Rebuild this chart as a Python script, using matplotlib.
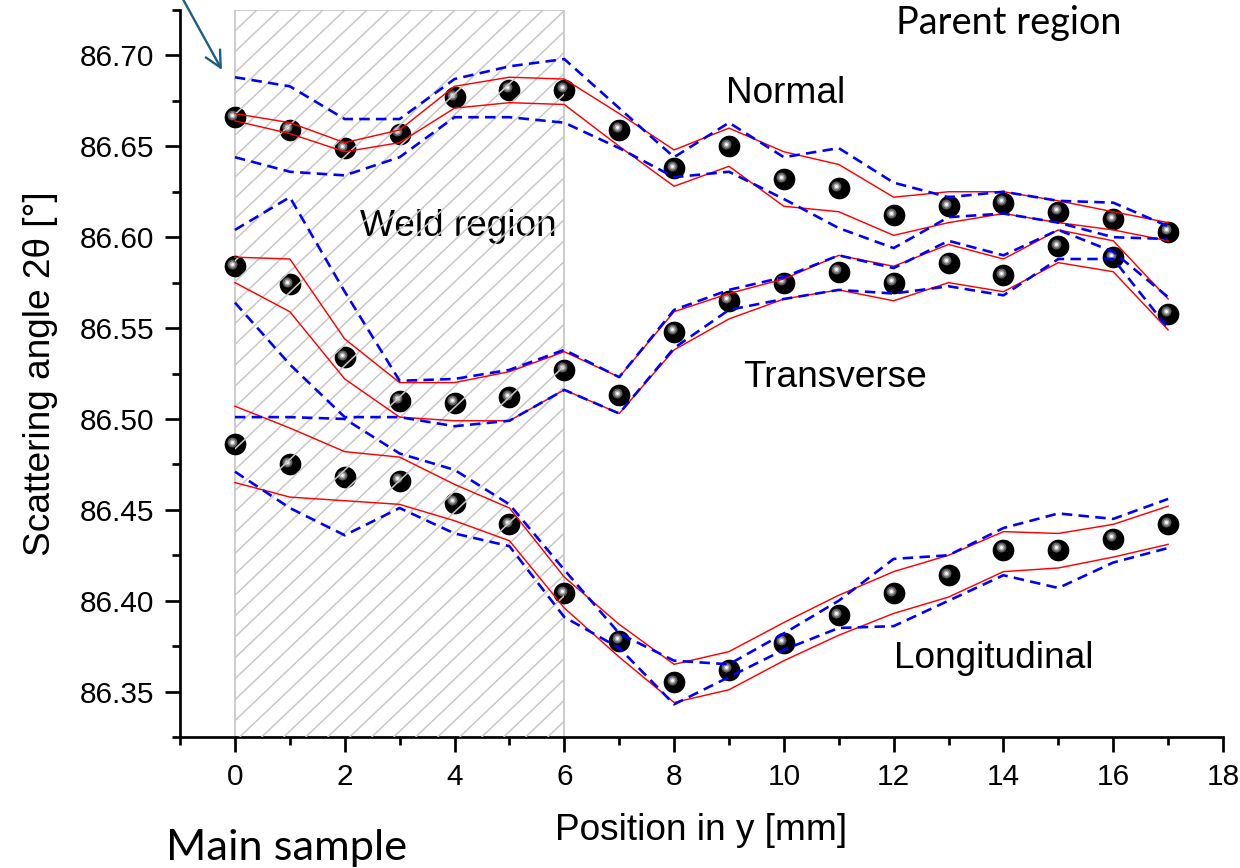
"""Scattering angle 2theta across the weld: normal, transverse, longitudinal.

Black balls are the measured peak positions, red solid lines one error
band, blue dashed lines the other. Writes out.png.
"""

import matplotlib

matplotlib.use("Agg")  # no display in the sandbox

import matplotlib.pyplot as plt
import numpy as np
from matplotlib.collections import LineCollection
from matplotlib.ticker import MultipleLocator
from matplotlib.transforms import offset_copy


positions = list(range(18))  # y position [mm]

# --- Normal -------------------------------------------------------------
normal = [86.666, 86.659, 86.649, 86.657, 86.677, 86.681, 86.681, 86.659, 86.638,
          86.650, 86.632, 86.627, 86.612, 86.617, 86.619, 86.614, 86.610, 86.603]
normal_red_hi = [86.668, 86.663, 86.652, 86.659, 86.683, 86.688, 86.687, 86.668, 86.648,
                 86.660, 86.647, 86.640, 86.622, 86.625, 86.625, 86.620, 86.614, 86.608]
normal_red_lo = [86.664, 86.657, 86.647, 86.652, 86.671, 86.674, 86.673, 86.650, 86.628,
                 86.639, 86.617, 86.614, 86.601, 86.608, 86.613, 86.608, 86.604, 86.598]
normal_blue_hi = [86.688, 86.683, 86.665, 86.665, 86.687, 86.694, 86.698, 86.671, 86.644,
                  86.663, 86.644, 86.649, 86.630, 86.622, 86.625, 86.620, 86.619, 86.606]
normal_blue_lo = [86.644, 86.636, 86.634, 86.644, 86.666, 86.666, 86.663, 86.649, 86.633,
                  86.636, 86.621, 86.605, 86.594, 86.611, 86.613, 86.608, 86.600, 86.599]

# --- Transverse ---------------------------------------------------------
transverse = [86.584, 86.574, 86.534, 86.510, 86.509, 86.512, 86.527, 86.513, 86.548,
              86.565, 86.575, 86.581, 86.575, 86.586, 86.579, 86.595, 86.589, 86.558]
transverse_red_hi = [86.589, 86.588, 86.544, 86.520, 86.520, 86.526, 86.537, 86.523, 86.559,
                     86.569, 86.577, 86.590, 86.584, 86.596, 86.588, 86.604, 86.598, 86.566]
transverse_red_lo = [86.575, 86.559, 86.522, 86.501, 86.499, 86.499, 86.516, 86.503, 86.538,
                     86.555, 86.566, 86.571, 86.565, 86.575, 86.570, 86.586, 86.581, 86.549]
transverse_blue_hi = [86.604, 86.622, 86.570, 86.521, 86.522, 86.527, 86.538, 86.523, 86.560,
                      86.571, 86.578, 86.590, 86.583, 86.598, 86.590, 86.604, 86.592, 86.567]
transverse_blue_lo = [86.564, 86.530, 86.501, 86.501, 86.496, 86.499, 86.516, 86.503, 86.539,
                      86.560, 86.566, 86.571, 86.569, 86.573, 86.568, 86.588, 86.588, 86.550]

# --- Longitudinal -------------------------------------------------------
longitudinal = [86.486, 86.475, 86.468, 86.466, 86.454, 86.442, 86.404, 86.378, 86.355,
                86.362, 86.377, 86.392, 86.404, 86.414, 86.428, 86.428, 86.434, 86.442]
longitudinal_red_hi = [86.507, 86.495, 86.482, 86.479, 86.464, 86.451, 86.413, 86.387, 86.365,
                       86.372, 86.388, 86.403, 86.416, 86.425, 86.438, 86.437, 86.442, 86.452]
longitudinal_red_lo = [86.465, 86.457, 86.455, 86.453, 86.444, 86.433, 86.396, 86.369, 86.344,
                       86.351, 86.367, 86.381, 86.393, 86.402, 86.416, 86.418, 86.424, 86.431]
longitudinal_blue_hi = [86.501, 86.501, 86.500, 86.481, 86.472, 86.453, 86.417, 86.382, 86.367,
                        86.365, 86.382, 86.400, 86.423, 86.425, 86.440, 86.448, 86.445, 86.456]
longitudinal_blue_lo = [86.471, 86.451, 86.436, 86.451, 86.437, 86.430, 86.391, 86.374, 86.343,
                        86.358, 86.373, 86.385, 86.386, 86.400, 86.414, 86.407, 86.421, 86.429]

WELD_START = 0
WELD_END = 6
X_RANGE = (-1, 18)
Y_RANGE = (86.325, 86.725)

DPI = 130
FIG_PX = (1240, 868)
AX_RECT = [0.1452, 0.1509, 0.8411, 0.8376]
SANS = "Liberation Sans"
NOTE_FONT = "Lato"
ARROW_COLOR = "#1d5e80"
HATCH_GRAY = "#c8c8c8"
HATCH_STEP_PX = 22    # horizontal distance between hatch lines
HATCH_SLOPE = 0.95    # rise over run, in pixels


def draw_weld_region(ax):
    """White box with grey diagonal hatch, hatch lying over the balls."""
    box = ax.axvspan(WELD_START, WELD_END, facecolor="white", edgecolor=HATCH_GRAY,
                     lw=1.0, zorder=0)

    ax_w = FIG_PX[0] * AX_RECT[2]
    ax_h = FIG_PX[1] * AX_RECT[3]
    span = X_RANGE[1] - X_RANGE[0]
    left = (WELD_START - X_RANGE[0]) / span
    right = (WELD_END - X_RANGE[0]) / span
    run = ax_h / HATCH_SLOPE / ax_w          # x travel over the full height
    starts = np.arange(left - run, right, HATCH_STEP_PX / ax_w)
    segs = [[(s, 0.0), (s + run, 1.0)] for s in starts]
    hatch = LineCollection(segs, colors=HATCH_GRAY, linewidths=0.85,
                           transform=ax.transAxes, zorder=4)
    ax.add_collection(hatch)
    hatch.set_clip_path(box)


def draw_balls(ax, fig, x, y):
    """Black spheres: dark body plus a small offset highlight."""
    ax.plot(x, y, "o", ms=11, color="black", mec="black", zorder=3)
    shine = offset_copy(ax.transData, fig=fig, x=-2.5, y=2.5, units="dots")
    ax.plot(x, y, "o", ms=5.5, color="#5e5e5e", mew=0, transform=shine, zorder=3.1)
    ax.plot(x, y, "o", ms=3.4, color="#b0b0b0", mew=0, transform=shine, zorder=3.2)
    ax.plot(x, y, "o", ms=1.6, color="white", mew=0, transform=shine, zorder=3.3)


def draw_series(ax, fig, x, y, red_hi, red_lo, blue_hi, blue_lo):
    for band in (red_hi, red_lo):
        ax.plot(x, band, color="red", lw=0.8, zorder=5)
    for band in (blue_hi, blue_lo):
        ax.plot(x, band, color="blue", lw=1.45, dashes=(4.0, 2.4), zorder=5)
    draw_balls(ax, fig, x, y)


def main():
    fig = plt.figure(figsize=(FIG_PX[0] / DPI, FIG_PX[1] / DPI), dpi=DPI)
    ax = fig.add_axes(AX_RECT)
    ax.set_xlim(*X_RANGE)
    ax.set_ylim(*Y_RANGE)

    draw_weld_region(ax)

    draw_series(ax, fig, positions, normal, normal_red_hi, normal_red_lo,
                normal_blue_hi, normal_blue_lo)
    draw_series(ax, fig, positions, transverse, transverse_red_hi, transverse_red_lo,
                transverse_blue_hi, transverse_blue_lo)
    draw_series(ax, fig, positions, longitudinal, longitudinal_red_hi,
                longitudinal_red_lo, longitudinal_blue_hi, longitudinal_blue_lo)

    ax.xaxis.set_major_locator(MultipleLocator(2))
    ax.xaxis.set_minor_locator(MultipleLocator(1))
    ax.yaxis.set_major_locator(MultipleLocator(0.05))
    ax.yaxis.set_minor_locator(MultipleLocator(0.025))
    ax.yaxis.set_major_formatter(plt.FormatStrFormatter("%.2f"))

    for side in ("top", "right"):
        ax.spines[side].set_visible(False)
    for side in ("left", "bottom"):
        ax.spines[side].set_linewidth(1.5)
    ax.tick_params(which="major", direction="out", length=8.3, width=1.5,
                   pad=6, labelsize=16.5)
    ax.tick_params(which="minor", direction="out", length=4.2, width=1.5)
    for label in ax.get_xticklabels() + ax.get_yticklabels():
        label.set_fontfamily(SANS)

    ax.set_xlabel("Position in y [mm]", fontsize=20.5, family=SANS, labelpad=12)
    ax.set_ylabel("Scattering angle 2θ [°]", fontsize=20.5,
                  family=[SANS, "DejaVu Sans"], labelpad=12)

    ax.text(10.04, 86.679, "Normal", fontsize=20.5, family=SANS,
            ha="center", va="center")
    ax.text(10.93, 86.523, "Transverse", fontsize=20.5, family=SANS,
            ha="center", va="center")
    ax.text(13.82, 86.368, "Longitudinal", fontsize=20.5, family=SANS,
            ha="center", va="center")
    ax.text(4.07, 86.606, "Weld region", fontsize=20.5, family=SANS,
            ha="center", va="center", zorder=2)
    ax.text(14.1, 86.718, "Parent region", fontsize=21, family=NOTE_FONT,
            ha="center", va="center", clip_on=False)
    fig.text(0.231, 0.023, "Main sample", fontsize=24, family=NOTE_FONT,
             ha="center", va="center")

    # arrow coming in from above, pointing at the weld-region corner
    ax.annotate("", xy=(222 / 1240, 1 - 70 / 868), xytext=(181 / 1240, 1.005),
                xycoords="figure fraction", textcoords="figure fraction",
                annotation_clip=False,
                arrowprops=dict(arrowstyle="->,head_length=0.9,head_width=0.45",
                                color=ARROW_COLOR, lw=1.3, shrinkA=0, shrinkB=0))

    fig.savefig("out.png", dpi=DPI)
    plt.close(fig)


if __name__ == "__main__":
    main()
